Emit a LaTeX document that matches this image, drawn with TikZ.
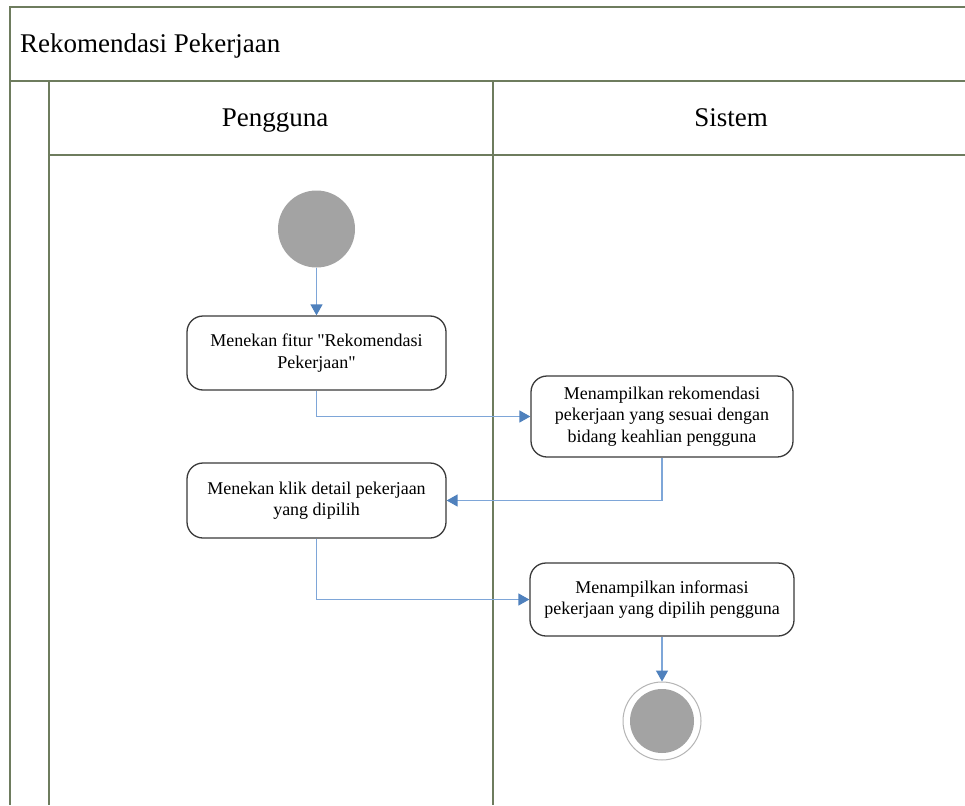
\documentclass[tikz,border=0pt]{standalone}
\usepackage{fontspec}
\setmainfont{Liberation Serif}[Ligatures=TeXOff]
\usetikzlibrary{arrows.meta}
\definecolor{lanecol}{HTML}{6E7C5E}
\definecolor{flowcol}{HTML}{7EA6D8}
\definecolor{tipcol}{HTML}{4F81BD}
\definecolor{dotcol}{HTML}{A3A3A3}
\definecolor{boxcol}{HTML}{3A3A3A}
\tikzset{
  lane/.style={draw=lanecol, line width=2pt},
  act/.style={draw=boxcol, line width=1.3pt, rounded corners=16pt, fill=white,
    align=center, font=\fontsize{18}{21.5}\selectfont, inner sep=0pt},
  flow/.style={draw=flowcol, line width=1.4pt, -{Triangle[length=11pt,width=12pt,fill=tipcol,color=tipcol]}},
  hdr/.style={font=\fontsize{27}{32}\selectfont, inner sep=0pt, anchor=base},
}
\begin{document}
\begin{tikzpicture}[x=1pt,y=-1pt]
\useasboundingbox (0,0) rectangle (965,805);
\fill[white] (0,0) rectangle (965,805);
% swimlane frame
\draw[lane] (965,7) -- (10,7) -- (10,805);
\draw[lane] (10,81) -- (965,81);
\draw[lane] (49,81) -- (49,805);
\draw[lane] (49,155) -- (965,155);
\draw[lane] (493,81) -- (493,805);
% headers
\node[hdr, anchor=base west] (title) at (20,53) {Rekomendasi Pekerjaan};
\node[hdr] (lanea) at (275,127) {Pengguna};
\node[hdr] (laneb) at (731,127) {Sistem};
% start
\node[circle, fill=dotcol, minimum size=77pt, inner sep=0pt] (start) at (316.5,229) {};
% activities
\node[act, minimum width=259pt, minimum height=74pt] (a1) at (316.5,353) {Menekan fitur "Rekomendasi\\Pekerjaan"};
\node[act, minimum width=262pt, minimum height=81pt] (a2) at (662,416.5) {Menampilkan rekomendasi\\pekerjaan yang sesuai dengan\\bidang keahlian pengguna};
\node[act, minimum width=259pt, minimum height=75pt] (a3) at (316.5,500.5) {Menekan klik detail pekerjaan\\yang dipilih};
\node[act, minimum width=264pt, minimum height=73pt] (a4) at (662,599.5) {Menampilkan informasi\\pekerjaan yang dipilih pengguna};
% end
\node[circle, draw=dotcol!80, line width=1pt, minimum size=78pt, inner sep=0pt] (endo) at (662,721) {};
\node[circle, fill=dotcol, minimum size=64pt, inner sep=0pt] (endi) at (662,721) {};
% flows
\draw[flow] (start.south) -- (a1.north);
\draw[flow] (a1.south) |- (a2.west);
\draw[flow] (a2.south) |- (a3.east);
\draw[flow] (a3.south) |- (a4.west);
\draw[flow] (a4.south) -- (endo.north);
\end{tikzpicture}
\end{document}
